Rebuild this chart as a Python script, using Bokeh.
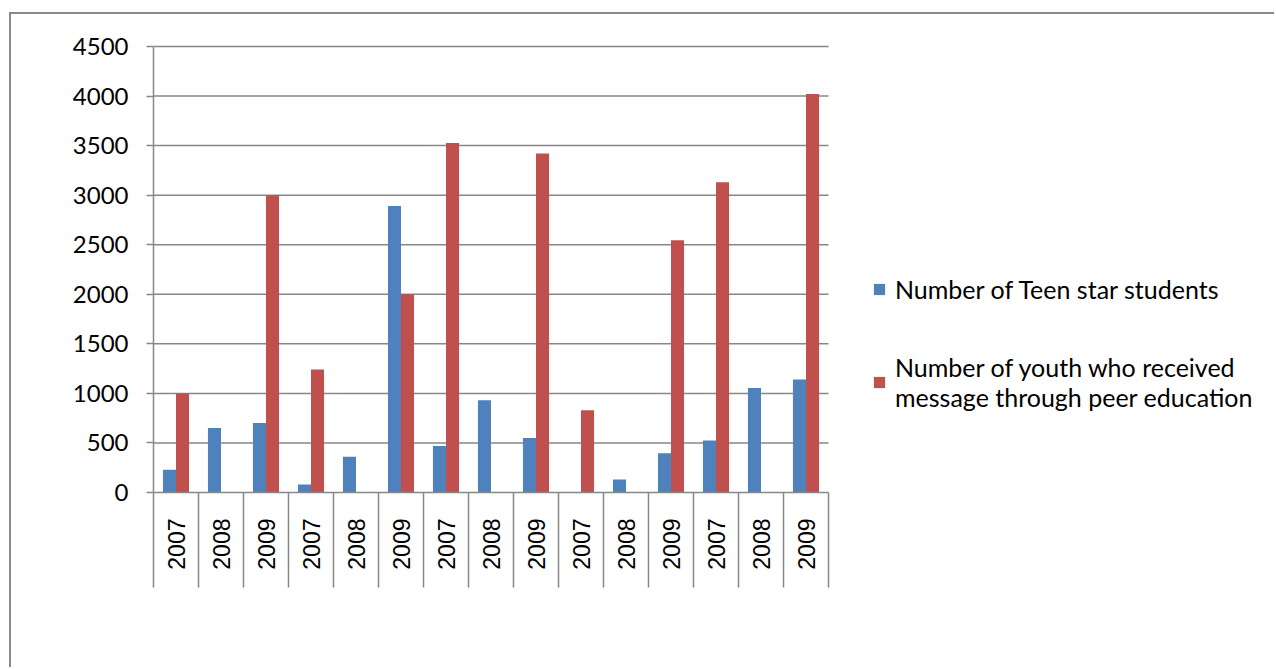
import math
import numpy as np
from bokeh.plotting import figure
from bokeh.models import Range1d, FixedTicker, Legend, LegendItem
from bokeh.embed import file_html
from bokeh.resources import INLINE

# ---- data ----
years = ["2007", "2008", "2009"] * 5
teen_star = [230, 650, 700, 80, 360, 2890, 470, 930, 550, 0, 130, 395, 525, 1055, 1140]
youth_peer = [1000, 0, 3000, 1240, 0, 2000, 3525, 0, 3420, 830, 0, 2545, 3130, 0, 4020]
y_ticks = [0, 500, 1000, 1500, 2000, 2500, 3000, 3500, 4000, 4500]
series_names = ["Number of Teen star students",
                "Number of youth who received\nmessage through peer education"]
colors = ["#4F81BD", "#C0504D"]

GRAY = "#878787"
n = len(years)
centers = np.arange(n) + 0.5
bar_w = 0.29

# canvas geometry (pixels)
CANVAS_W, CANVAS_H = 1265, 655
LEFT, TOP, BOTTOM = 142, 30, 177
PLOT_W = 675                       # width taken by the 15 categories
frame_w = CANVAS_W - LEFT
x_end = n * frame_w / PLOT_W       # frame spans the full width; data use the left part

p = figure(width=CANVAS_W, height=CANVAS_H, output_backend="svg", toolbar_location=None,
           x_range=Range1d(0, x_end), y_range=Range1d(0, 4520),
           min_border_left=LEFT, min_border_right=0, min_border_top=TOP,
           min_border_bottom=BOTTOM, margin=(12, 0, 0, 9),
           styles={"border-top": "2px solid #8a8a8a", "border-left": "2px solid #8a8a8a"})
p.outline_line_color = None
p.background_fill_color = "white"
p.border_fill_color = "white"

# horizontal gridlines limited to the category area
grid_y = y_ticks[1:]
p.segment(x0=[0] * len(grid_y), x1=[n] * len(grid_y), y0=grid_y, y1=grid_y,
          line_color=GRAY, line_width=1.5)
p.xgrid.visible = False
p.ygrid.visible = False

r1 = p.vbar(x=centers - bar_w / 2, top=teen_star, width=bar_w, bottom=0,
            fill_color=colors[0], line_color=None)
r2 = p.vbar(x=centers + bar_w / 2, top=youth_peer, width=bar_w, bottom=0,
            fill_color=colors[1], line_color=None)

# x axis: labels at centers, long separators as minor ticks at boundaries
xa = p.xaxis[0]
xa.bounds = (0, n)
xa.ticker = FixedTicker(ticks=list(centers), minor_ticks=list(range(n + 1)))
xa.major_label_overrides = {float(c): y for c, y in zip(centers, years)}
xa.major_tick_out = 0
xa.major_tick_in = 0
xa.minor_tick_out = 95
xa.minor_tick_in = 0
xa.minor_tick_line_color = GRAY
xa.minor_tick_line_width = 1.5
xa.axis_line_color = GRAY
xa.axis_line_width = 1.5
xa.major_label_orientation = math.pi / 2
xa.major_label_standoff = -69
xa.major_label_text_font = "Liberation Sans"
xa.major_label_text_font_size = "23px"
xa.major_label_text_color = "black"

ya = p.yaxis[0]
ya.bounds = (0, 4500)
ya.ticker = FixedTicker(ticks=y_ticks, minor_ticks=[])
ya.major_tick_out = 7
ya.major_tick_in = 0
ya.major_tick_line_color = GRAY
ya.major_tick_line_width = 1.5
ya.axis_line_color = GRAY
ya.axis_line_width = 1.5
ya.major_label_standoff = 18
ya.major_label_text_font = "Lato"
ya.major_label_text_font_size = "24px"
ya.major_label_text_color = "black"

legend = Legend(items=[LegendItem(label=series_names[0], renderers=[r1]),
                       LegendItem(label=series_names[1], renderers=[r2])],
                location=(719, 80), glyph_width=14, glyph_height=14,
                label_standoff=9, spacing=48, padding=0, margin=0,
                border_line_alpha=0, background_fill_alpha=0,
                label_text_font="Lato", label_text_font_size="25px",
                label_text_color="black", label_text_line_height=1.28)
p.add_layout(legend, "center")

open("out.html", "w").write(file_html(p, INLINE))
